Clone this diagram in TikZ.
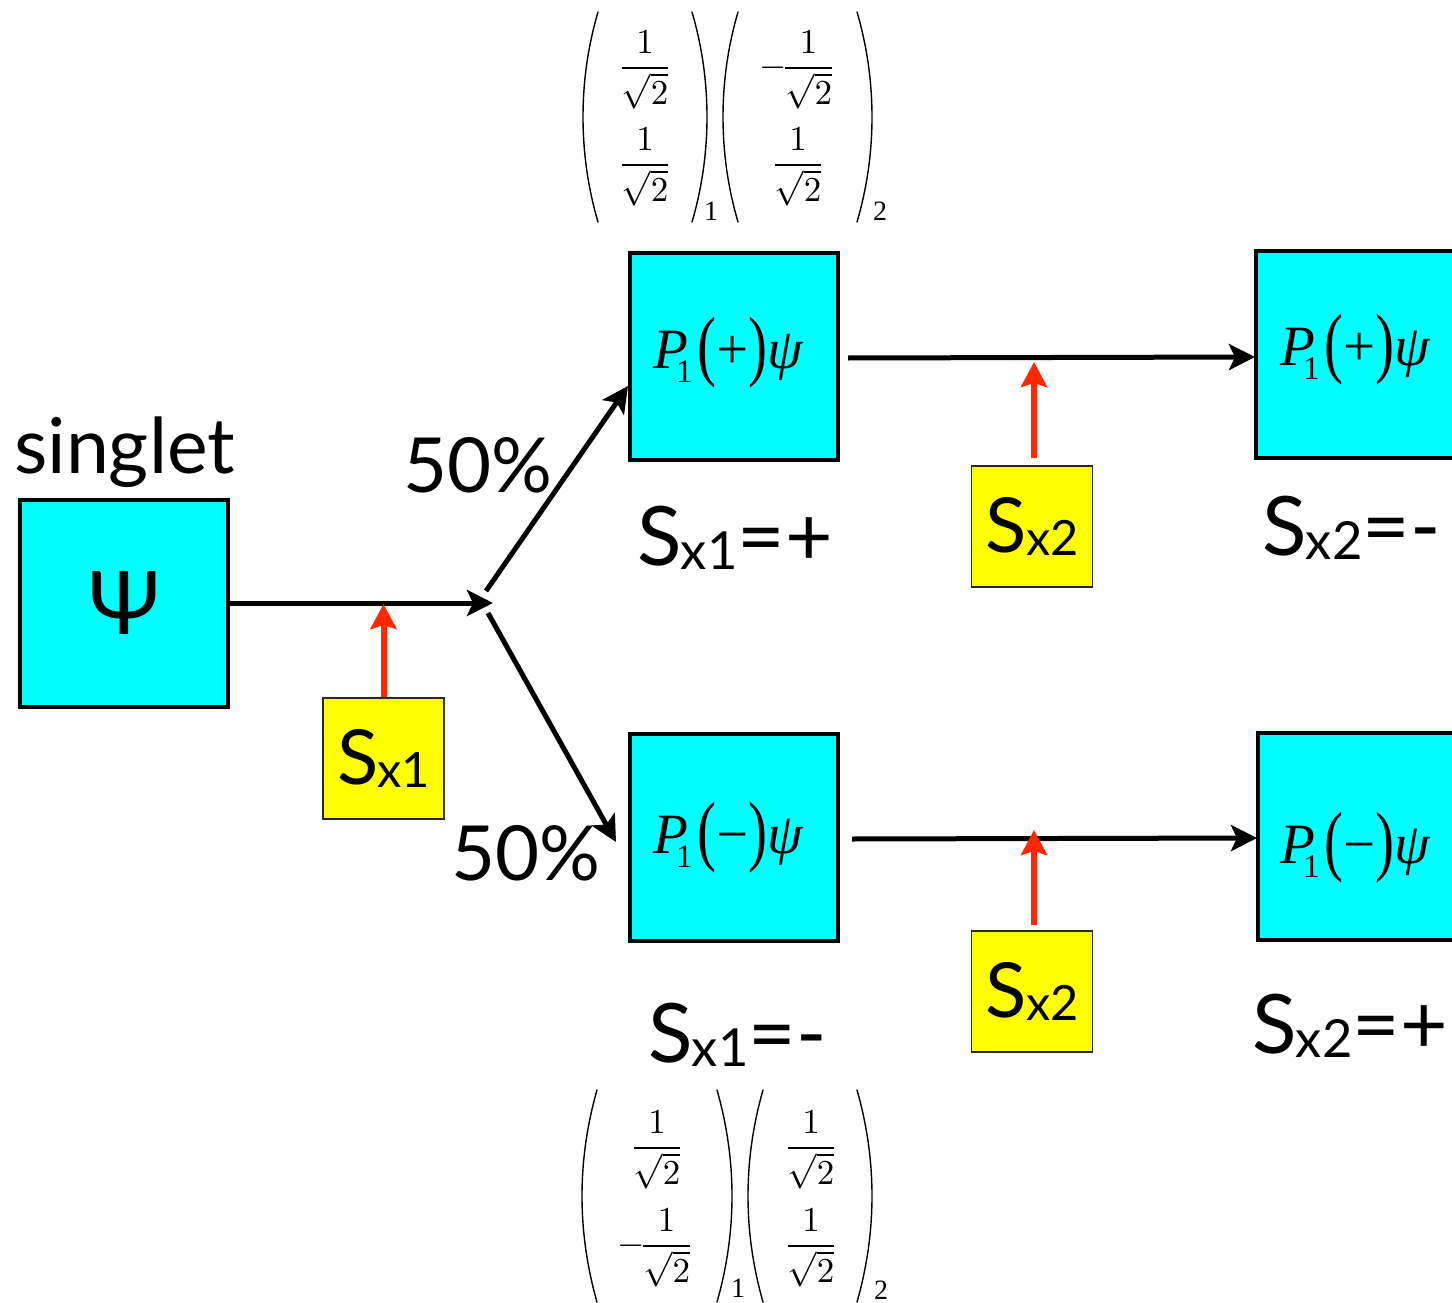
\documentclass[tikz,border=0pt]{standalone}
\usepackage{fontspec}
\usepackage{graphicx}
\setmainfont{Liberation Serif}
\newfontfamily\gs{Lato}
\usetikzlibrary{arrows.meta}

\definecolor{boxcyan}{RGB}{0,255,255}
\definecolor{boxyellow}{RGB}{255,255,0}
\definecolor{sred}{RGB}{255,40,0}
\definecolor{yborder}{RGB}{40,40,40}

\newcommand\Sx[2]{#1\kern-0.01em\raisebox{-0.05em}{\scalebox{0.64}{x#2}}}
\newcommand\Pex[1]{{\itshape P}\kern-12pt\raisebox{-14pt}{\fontsize{33}{33}\selectfont 1}\kern5pt\raisebox{-3.5pt}{\scalebox{1}[1.37]{(}}#1\raisebox{-3.5pt}{\scalebox{1}[1.37]{)}}{\itshape ψ}}
\newcommand\Fr{\scalebox{3.5}{$\displaystyle\frac{1}{\sqrt{2}}$}}
\newcommand\mFr{\scalebox{3.5}{$-\mkern-3mu\displaystyle\frac{1}{\sqrt{2}}$}}

\tikzset{
  cyanbox/.style={draw=black, fill=boxcyan, line width=4pt, minimum width=208pt, minimum height=207pt, inner sep=0pt},
  ybox/.style={draw=yborder, fill=boxyellow, line width=1.8pt, minimum width=121pt, minimum height=121pt, inner sep=0pt, font=\gs\fontsize{76}{80}\selectfont},
  blk/.style={line width=5pt, -{Stealth[length=26pt,width=26pt,inset=6pt]}},
  rarr/.style={draw=sred, line width=6pt, -{Stealth[length=25pt,width=26pt,inset=4pt]}},
  lab/.style={font=\gs\fontsize{82}{90}\selectfont, inner sep=0pt},
  pctlab/.style={font=\gs\fontsize{76}{90}\selectfont, inner sep=0pt},
  pex/.style={font=\fontsize{57}{60}\selectfont, inner sep=0pt},
  frac/.style={font=\fontsize{10}{12}\selectfont, inner sep=0pt},
  paren/.style={line width=1.4pt, line cap=round},
  msub/.style={font=\fontsize{28}{28}\selectfont, inner sep=0pt}
}

\begin{document}
\begin{tikzpicture}[x=1pt,y=-1pt]
\useasboundingbox (0,0) rectangle (1452,1303);
\clip (0,0) rectangle (1452,1303);

% boxes
\node[cyanbox, font=\gs\fontsize{88}{90}\selectfont] (psi) at (124,603) {Ψ};
\node[cyanbox] (pp) at (734,356) {};
\node[cyanbox] (pm) at (734,837.5) {};
\node[cyanbox] (rp) at (1360,354) {};
\node[cyanbox] (rm) at (1362,836) {};

\node[ybox] (sx1) at (383.5,758.5) {\Sx{S}{1}};
\node[ybox] (sx2a) at (1032,526.5) {\Sx{S}{2}};
\node[ybox] (sx2b) at (1032,991.5) {\Sx{S}{2}};

% box texts
\node[pex, anchor=base west] (tpp) at (653,368) {\Pex{+}};
\node[pex, anchor=base west] (tpm) at (653,853) {\Pex{−}};
\node[pex, anchor=base west] (trp) at (1280,365) {\Pex{+}};
\node[pex, anchor=base west] (trm) at (1280,863) {\Pex{−}};

% labels
\node[lab, font=\gs\fontsize{77}{90}\selectfont, anchor=base west] (singlet) at (14,473) {singlet};
\node[pctlab, anchor=base west] (p50a) at (403,492) {50\%};
\node[pctlab, anchor=base west] (p50b) at (451,880) {50\%};
\node[lab, anchor=base west] (lx1p) at (637,565) {\Sx{S}{1}=+};
\node[lab, anchor=base west] (lx1m) at (648,1062) {\Sx{S}{1}=-};
\node[lab, anchor=base west] (lx2m) at (1262,555) {\Sx{S}{2}=-};
\node[lab, anchor=base west] (lx2p) at (1252,1053) {\Sx{S}{2}=+};

% connectors
\coordinate (c0) at (493,603);
\draw[blk] (psi.east) -- (c0);
\coordinate (ua) at (486,591);
\coordinate (ub) at (628,386);
\draw[blk] (ua) -- (ub);
\coordinate (da) at (488,613);
\coordinate (db) at (616,842);
\draw[blk] (da) -- (db);
\coordinate (h1a) at (848,358);
\coordinate (h1b) at (1255,357);
\draw[blk] (h1a) -- (h1b);
\coordinate (h2a) at (852,839);
\coordinate (h2b) at (1257,838);
\draw[blk] (h2a) -- (h2b);

\coordinate (r1t) at (383.5,604);
\draw[rarr] (sx1.north) -- (r1t);
\coordinate (r2s) at (1034,458);
\coordinate (r2t) at (1034,362);
\draw[rarr] (r2s) -- (r2t);
\coordinate (r3s) at (1034,925);
\coordinate (r3t) at (1034,830);
\draw[rarr] (r3s) -- (r3t);

% top matrices
\draw[paren] (598,12) .. controls (578,80) and (578,154) .. (598,222);
\draw[paren] (692,12) .. controls (712,80) and (712,154) .. (692,222);
\draw[paren] (738,12) .. controls (718,80) and (718,154) .. (738,222);
\draw[paren] (857,12) .. controls (877,80) and (877,154) .. (857,222);
\node[frac] (a11) at (645,70) {\Fr};
\node[frac] (a21) at (645,167) {\Fr};
\node[frac] (a12) at (798,70) {\mFr};
\node[frac] (a22) at (798,167) {\Fr};
\node[msub] (as1) at (711,211) {1};
\node[msub] (as2) at (880,211) {2};

% bottom matrices
\draw[paren] (597,1090) .. controls (577,1160) and (577,1232) .. (597,1302);
\draw[paren] (717,1090) .. controls (737,1160) and (737,1232) .. (717,1302);
\draw[paren] (763,1090) .. controls (743,1160) and (743,1232) .. (763,1302);
\draw[paren] (857,1090) .. controls (877,1160) and (877,1232) .. (857,1302);
\node[frac] (b11) at (657,1150) {\Fr};
\node[frac] (b21) at (656,1248) {\mFr};
\node[frac] (b12) at (811,1150) {\Fr};
\node[frac] (b22) at (811,1248) {\Fr};
\node[msub] (bs1) at (738,1288) {1};
\node[msub] (bs2) at (881,1290) {2};
\end{tikzpicture}
\end{document}
